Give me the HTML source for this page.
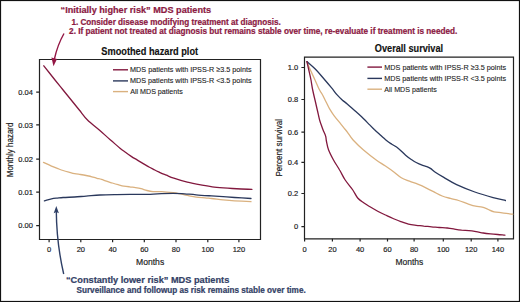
<!DOCTYPE html>
<html><head><meta charset="utf-8">
<style>
html,body{margin:0;padding:0;background:#fff;}
body{width:520px;height:302px;overflow:hidden;}
svg{display:block;font-family:"Liberation Sans",sans-serif;}
</style></head>
<body>
<svg width="520" height="302" viewBox="0 0 520 302">
<rect x="0" y="0" width="520" height="302" fill="#fff"/>
<rect x="0.5" y="0.5" width="519" height="301" fill="none" stroke="#111" stroke-width="1.2"/>

<!-- top annotation -->
<g fill="#8c1a43" stroke="#8c1a43" stroke-width="0.22" font-weight="bold">
<text x="60.6" y="13.0" font-size="9.9" textLength="150.6" lengthAdjust="spacingAndGlyphs">“Initially higher risk” MDS patients</text>
<text x="71.4" y="24.5" font-size="8.2" textLength="209.4" lengthAdjust="spacingAndGlyphs">1. Consider disease modifying treatment at diagnosis.</text>
<text x="69.1" y="34" font-size="8.2" textLength="388.2" lengthAdjust="spacingAndGlyphs">2. If patient not treated at diagnosis but remains stable over time, re-evaluate if treatment is needed.</text>
</g>

<!-- bottom annotation -->
<g fill="#334166" stroke="#334166" stroke-width="0.22" font-weight="bold">
<text x="66" y="282.5" font-size="9.9" textLength="163.3" lengthAdjust="spacingAndGlyphs">“Constantly lower risk” MDS patients</text>
<text x="76.5" y="293.3" font-size="8.2" textLength="229.2" lengthAdjust="spacingAndGlyphs">Surveillance and followup as risk remains stable over time.</text>
</g>

<!-- plot titles -->
<g fill="#111" stroke="#111" stroke-width="0.15" font-weight="bold" font-size="10.4">
<text x="101.3" y="54.9" textLength="96.8" lengthAdjust="spacingAndGlyphs">Smoothed hazard plot</text>
<text x="374.8" y="51.9" textLength="68.3" lengthAdjust="spacingAndGlyphs">Overall survival</text>
</g>

<!-- LEFT PLOT -->
<g stroke="#222" stroke-width="1.2" fill="none">
<path d="M39.5,59.5 H260.5 V239.5 H39.5 Z"/>
<path d="M36.2,92.2H39.5 M36.2,124.8H39.5 M36.2,159.2H39.5 M36.2,192.2H39.5 M36.2,225.7H39.5"/>
<path d="M49.1,239.5V242.3 M80.8,239.5V242.3 M112.6,239.5V242.3 M144.3,239.5V242.3 M176.0,239.5V242.3 M207.8,239.5V242.3 M238.9,239.5V242.3"/>
</g>
<g fill="#222" stroke="#222" stroke-width="0.18" font-size="7.5" text-anchor="end">
<text x="32.9" y="94.9">0.04</text>
<text x="32.9" y="127.5">0.03</text>
<text x="32.9" y="161.9">0.02</text>
<text x="32.9" y="194.9">0.01</text>
<text x="32.9" y="228.4">0.00</text>
</g>
<g fill="#222" stroke="#222" stroke-width="0.18" font-size="7.5" text-anchor="middle">
<text x="49.1" y="252">0</text>
<text x="80.8" y="252">20</text>
<text x="112.6" y="252">40</text>
<text x="144.3" y="252">60</text>
<text x="176.0" y="252">80</text>
<text x="207.8" y="252">100</text>
<text x="238.9" y="252">120</text>
</g>
<text x="136" y="264.6" font-size="9.4" fill="#222" stroke="#222" stroke-width="0.18" textLength="28.2" lengthAdjust="spacingAndGlyphs">Months</text>
<text transform="translate(12.5,177.3) rotate(-90)" font-size="8.3" fill="#222" stroke="#222" stroke-width="0.18" textLength="54.8" lengthAdjust="spacingAndGlyphs">Monthly hazard</text>

<!-- legend left -->
<g stroke-width="1.4">
<path d="M113,69.8H128" stroke="#82183e"/>
<path d="M113,80.9H128" stroke="#2a385c"/>
<path d="M113,91.6H128" stroke="#dab17f"/>
</g>
<g fill="#1c1c1c" stroke="#1c1c1c" stroke-width="0.12" font-size="7.8">
<text x="130.1" y="71.8" textLength="121.5" lengthAdjust="spacingAndGlyphs">MDS patients with IPSS-R ≥3.5 points</text>
<text x="130.1" y="83.2" textLength="121.5" lengthAdjust="spacingAndGlyphs">MDS patients with IPSS-R &lt;3.5 points</text>
<text x="130.2" y="94.1" textLength="52.6" lengthAdjust="spacingAndGlyphs">All MDS patients</text>
</g>

<!-- curves left -->
<g fill="none" stroke-width="1.3" stroke-linejoin="round" stroke-linecap="round">
<path stroke="#dab17f" stroke-width="1.3" d="M43.5,162.4 C44.8,163.0 49.2,165.1 51.5,166.1 C53.8,167.1 55.4,167.7 57.3,168.4 C59.2,169.1 61.2,169.9 63.1,170.5 C65.0,171.1 66.9,171.6 68.8,172.1 C70.7,172.6 72.7,173.2 74.6,173.6 C76.5,174.0 78.5,174.2 80.4,174.5 C82.3,174.8 84.2,175.1 86.1,175.5 C88.0,175.9 90.1,176.3 91.9,176.8 C93.7,177.3 95.4,177.9 97.0,178.3 C98.6,178.7 99.9,178.9 101.5,179.4 C103.1,179.9 104.7,180.6 106.5,181.2 C108.3,181.8 110.4,182.4 112.3,183.0 C114.2,183.6 116.2,184.2 118.1,184.7 C120.0,185.2 121.9,185.8 123.8,186.1 C125.7,186.4 127.7,186.6 129.6,186.8 C131.5,187.1 133.5,187.3 135.4,187.6 C137.3,187.9 139.2,188.2 141.1,188.7 C143.0,189.2 144.9,190.0 146.9,190.5 C148.9,191.0 150.6,191.4 153.0,191.6 C155.4,191.8 158.2,191.5 161.5,191.7 C164.8,191.9 170.2,192.4 173.1,192.7 C176.0,193.0 176.9,193.2 178.8,193.6 C180.7,193.9 182.7,194.4 184.6,194.8 C186.5,195.2 188.5,195.7 190.4,196.1 C192.3,196.5 193.7,196.8 196.1,197.1 C198.5,197.4 202.4,197.6 205.0,197.8 C207.6,198.0 208.5,198.2 211.5,198.5 C214.5,198.8 219.2,199.4 223.1,199.8 C226.9,200.2 229.9,200.5 234.6,200.8 C239.2,201.1 248.3,201.5 251.0,201.7"/>
<path stroke="#2a385c" d="M44.4,200.8 C45.6,200.5 49.4,199.4 51.5,198.9 C53.6,198.4 55.4,198.3 57.3,198.1 C59.2,197.9 60.2,197.7 63.1,197.5 C66.0,197.3 70.8,197.2 74.6,197.0 C78.4,196.8 81.9,196.4 86.1,196.1 C90.3,195.8 95.2,195.2 100.0,195.0 C104.8,194.8 110.0,194.7 115.0,194.6 C120.0,194.5 124.2,194.4 130.0,194.4 C135.8,194.4 144.8,194.5 150.0,194.4 C155.2,194.3 157.7,193.8 161.5,193.6 C165.3,193.4 169.2,193.3 173.1,193.3 C176.9,193.3 180.8,193.6 184.6,193.8 C188.4,194.1 191.6,194.5 196.1,194.8 C200.6,195.2 207.0,195.6 211.5,195.9 C216.0,196.2 219.2,196.4 223.1,196.7 C226.9,197.0 229.9,197.2 234.6,197.5 C239.2,197.8 248.3,198.3 251.0,198.5"/>
<path stroke="#82183e" d="M43.8,65.8 C45.7,68.2 51.8,76.0 55.0,80.0 C58.2,84.0 60.4,86.7 63.1,90.0 C65.8,93.3 68.5,96.7 71.2,100.0 C73.9,103.3 76.6,106.7 79.3,110.0 C82.0,113.3 84.2,116.7 87.5,120.0 C90.8,123.3 95.5,126.7 99.3,130.0 C103.1,133.3 107.0,137.0 110.5,140.0 C114.0,143.0 117.5,146.1 120.0,148.2 C122.5,150.3 123.9,151.1 125.8,152.5 C127.7,153.9 129.7,155.3 131.6,156.6 C133.5,157.9 135.5,158.9 137.4,160.1 C139.3,161.3 141.3,162.4 143.2,163.6 C145.1,164.8 147.1,165.9 149.0,167.0 C150.9,168.1 152.9,169.0 154.8,170.0 C156.7,171.0 158.7,171.9 160.6,172.8 C162.5,173.7 164.2,174.3 166.4,175.2 C168.6,176.1 170.3,177.0 173.8,178.2 C177.3,179.4 182.8,181.1 187.3,182.2 C191.8,183.3 196.3,184.1 200.8,184.9 C205.3,185.7 209.7,186.6 214.2,187.1 C218.7,187.6 223.2,187.9 227.7,188.2 C232.2,188.5 237.2,188.8 241.2,189.0 C245.2,189.2 250.1,189.3 251.9,189.4"/>
</g>

<!-- RIGHT PLOT -->
<g stroke="#222" stroke-width="1.2" fill="none">
<path d="M304.5,57.1 H513.5 V238.8 H304.5 Z"/>
<path d="M301.4,67.5H304.5 M301.4,99.5H304.5 M301.4,132.1H304.5 M301.4,162.3H304.5 M301.4,193.5H304.5 M301.4,226.6H304.5"/>
<path d="M304.6,238.8V241.4 M332.4,238.8V241.4 M360.1,238.8V241.4 M387.5,238.8V241.4 M414.1,238.8V241.4 M443.3,238.8V241.4 M471.2,238.8V241.4 M497.9,238.8V241.4"/>
</g>
<g fill="#222" stroke="#222" stroke-width="0.18" font-size="7.5" text-anchor="end">
<text x="298.2" y="70.2">1.0</text>
<text x="298.2" y="102.2">0.8</text>
<text x="298.2" y="134.8">0.6</text>
<text x="298.2" y="165.0">0.4</text>
<text x="298.2" y="196.2">0.2</text>
<text x="298.2" y="229.3">0</text>
</g>
<g fill="#222" stroke="#222" stroke-width="0.18" font-size="7.5" text-anchor="middle">
<text x="304.6" y="251.5">0</text>
<text x="332.4" y="251.5">20</text>
<text x="360.1" y="251.5">40</text>
<text x="387.5" y="251.5">60</text>
<text x="414.1" y="251.5">80</text>
<text x="443.3" y="251.5">100</text>
<text x="471.2" y="251.5">120</text>
<text x="497.9" y="251.5">140</text>
</g>
<text x="395.4" y="264.7" font-size="9.4" fill="#222" stroke="#222" stroke-width="0.18" textLength="27.9" lengthAdjust="spacingAndGlyphs">Months</text>
<text transform="translate(282.1,176.6) rotate(-90)" font-size="8.3" fill="#222" stroke="#222" stroke-width="0.18" textLength="57.6" lengthAdjust="spacingAndGlyphs">Percent survival</text>

<!-- legend right -->
<g stroke-width="1.4">
<path d="M367.4,67.1H382" stroke="#82183e"/>
<path d="M367.4,78.4H382" stroke="#2a385c"/>
<path d="M367.4,89.2H382" stroke="#dab17f"/>
</g>
<g fill="#1c1c1c" stroke="#1c1c1c" stroke-width="0.12" font-size="7.8">
<text x="384.3" y="69.5" textLength="121.8" lengthAdjust="spacingAndGlyphs">MDS patients with IPSS-R ≥3.5 points</text>
<text x="384.3" y="80.8" textLength="121.8" lengthAdjust="spacingAndGlyphs">MDS patients with IPSS-R &lt;3.5 points</text>
<text x="384.3" y="91.9" textLength="52.6" lengthAdjust="spacingAndGlyphs">All MDS patients</text>
</g>

<!-- curves right -->
<g fill="none" stroke-width="1.3" stroke-linejoin="round" stroke-linecap="round">
<path stroke="#dab17f" stroke-width="1.3" d="M306.9,61.6 C307.5,63.0 309.0,66.9 310.4,70.0 C311.8,73.1 313.5,76.7 315.0,80.0 C316.5,83.3 318.3,87.5 319.6,90.0 C320.9,92.5 321.5,93.0 322.6,95.0 C323.7,97.0 324.9,99.7 326.1,102.0 C327.3,104.3 328.2,106.6 329.6,108.9 C331.0,111.2 332.6,113.8 334.2,115.9 C335.8,118.0 337.3,119.8 338.9,121.7 C340.4,123.6 342.1,125.6 343.5,127.4 C344.9,129.2 345.9,130.2 347.5,132.3 C349.1,134.4 350.4,137.1 353.1,140.0 C355.8,142.9 359.6,146.7 363.5,150.0 C367.4,153.3 372.6,157.4 376.2,160.0 C379.8,162.6 382.2,163.8 385.0,165.7 C387.8,167.6 390.5,169.4 393.2,171.4 C395.9,173.4 398.6,176.1 401.3,177.7 C404.0,179.3 406.8,180.1 409.5,181.2 C412.2,182.3 415.0,183.1 417.7,184.2 C420.4,185.3 423.2,186.5 425.9,187.8 C428.6,189.1 431.3,190.5 434.0,191.9 C436.7,193.3 439.5,194.9 442.2,196.0 C444.9,197.1 447.7,197.7 450.4,198.4 C453.1,199.2 455.6,199.6 458.6,200.5 C461.6,201.4 465.6,203.2 468.4,204.1 C471.2,205.0 473.3,205.7 475.6,206.2 C477.9,206.7 480.2,206.7 482.2,207.2 C484.2,207.7 485.5,208.3 487.5,209.1 C489.5,209.9 491.7,211.2 494.1,211.8 C496.5,212.4 499.0,212.4 502.1,212.8 C505.2,213.2 511.0,214.0 512.8,214.2"/>
<path stroke="#2a385c" d="M306.9,61.6 C308.4,63.0 313.2,66.9 316.2,70.0 C319.2,73.1 322.3,77.0 324.9,80.0 C327.5,83.0 329.6,85.5 331.6,87.9 C333.6,90.3 335.1,92.6 336.9,94.6 C338.7,96.6 340.4,98.3 342.2,99.9 C344.0,101.5 345.2,102.2 347.5,104.2 C349.8,106.2 353.4,109.5 355.8,111.6 C358.2,113.7 359.3,114.6 361.6,116.8 C363.9,119.0 367.6,122.8 369.7,124.9 C371.8,127.0 372.8,128.0 374.3,129.5 C375.9,131.0 377.0,132.0 379.0,133.8 C381.0,135.6 384.4,138.8 386.5,140.5 C388.6,142.2 389.8,142.9 391.8,144.2 C393.8,145.5 396.1,146.6 398.4,148.4 C400.7,150.2 403.5,153.4 405.6,155.2 C407.7,157.0 409.1,158.0 410.9,159.2 C412.7,160.4 414.4,161.6 416.2,162.5 C418.0,163.4 419.7,164.2 421.5,164.9 C423.3,165.6 425.2,166.0 426.8,166.6 C428.4,167.2 429.4,167.6 430.8,168.6 C432.2,169.6 433.1,170.8 435.3,172.3 C437.5,173.8 440.2,175.4 443.8,177.4 C447.4,179.4 451.4,182.2 456.6,184.6 C461.8,187.0 468.7,189.8 474.8,192.0 C480.9,194.2 488.0,196.2 493.1,197.6 C498.2,199.0 503.3,200.0 505.4,200.5"/>
<path stroke="#82183e" d="M306.9,61.6 C307.2,63.0 308.1,66.9 308.8,70.0 C309.5,73.1 310.4,76.7 311.0,80.0 C311.6,83.3 312.0,86.7 312.7,90.0 C313.4,93.3 314.2,96.7 315.0,100.0 C315.8,103.3 316.5,106.7 317.3,110.0 C318.1,113.3 318.9,117.5 319.6,120.0 C320.3,122.5 320.7,123.3 321.3,125.0 C321.9,126.7 322.4,128.2 323.1,130.0 C323.8,131.8 325.1,134.2 325.6,136.0 C326.2,137.8 325.9,138.7 326.4,141.0 C326.9,143.3 327.4,146.8 328.6,150.0 C329.8,153.2 331.7,156.7 333.5,160.0 C335.3,163.3 337.7,166.7 339.6,170.0 C341.6,173.3 343.0,176.7 345.2,180.0 C347.4,183.3 350.7,187.0 352.8,190.0 C354.9,193.0 355.8,195.8 357.7,198.0 C359.6,200.2 361.9,201.5 364.0,203.0 C366.1,204.5 367.7,205.4 370.0,206.8 C372.3,208.2 375.1,209.8 377.7,211.2 C380.3,212.6 382.8,213.8 385.4,215.0 C388.0,216.2 390.5,217.4 393.1,218.5 C395.7,219.6 398.2,220.7 400.8,221.6 C403.4,222.5 405.9,223.6 408.5,224.2 C411.1,224.8 413.6,225.0 416.2,225.3 C418.8,225.6 421.2,225.8 423.8,226.1 C426.4,226.3 428.9,226.6 431.5,226.8 C434.1,227.0 436.6,227.3 439.2,227.5 C441.8,227.7 444.7,227.7 447.2,228.0 C449.7,228.3 452.0,228.7 454.4,229.1 C456.8,229.5 459.2,229.9 461.6,230.2 C464.0,230.4 466.5,230.4 468.9,230.6 C471.3,230.8 473.7,231.2 476.1,231.6 C478.5,232.0 480.9,232.6 483.3,233.0 C485.7,233.4 488.1,233.6 490.5,233.8 C492.9,234.1 495.3,234.3 497.7,234.5 C500.1,234.7 503.7,235.1 504.9,235.2"/>
</g>

<!-- arrows -->
<g fill="none" stroke-width="1.4">
<path d="M64,33.5 Q57.5,45 54.4,59" stroke="#931644"/>
<path d="M63.7,274 C60,258 56.5,235 56.3,211" stroke="#2e3f66"/>
</g>
<path d="M51.4,57.6 L57,58.9 L53.5,66.2 Z" fill="#931644"/>
<path d="M53.7,213.3 L56.3,205.9 L58.9,213.3 L56.3,212 Z" fill="#2e3f66"/>
</svg>
</body></html>
